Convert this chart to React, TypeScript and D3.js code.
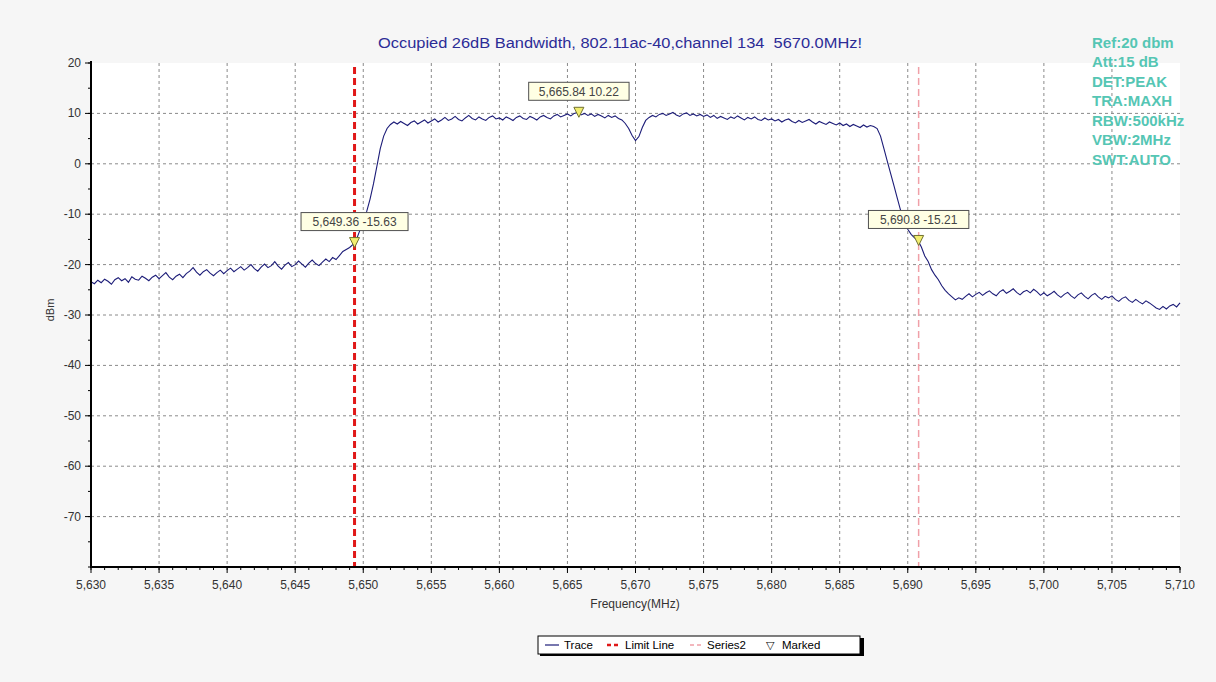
import React from 'react';
import * as d3 from 'd3';

// chart text
const TITLE = 'Occupied 26dB Bandwidth, 802.11ac-40,channel 134  5670.0MHz!';
const SETTINGS = ['Ref:20 dbm', 'Att:15 dB', 'DET:PEAK', 'TRA:MAXH', 'RBW:500kHz', 'VBW:2MHz', 'SWT:AUTO'];

// axes
const X_TICKS = [5630, 5635, 5640, 5645, 5650, 5655, 5660, 5665, 5670, 5675, 5680, 5685, 5690, 5695, 5700, 5705, 5710];
const Y_TICKS = [20, 10, 0, -10, -20, -30, -40, -50, -60, -70];

// trace, one sample every 0.25 MHz from 5630 MHz
const TRACE_START = 5630;
const TRACE_STEP = 0.25;
const TRACE = [
  -23.4, -23.8, -23.1, -23.6, -22.9, -23.3, -23.9, -23.0, -22.6, -23.2, -22.8, -23.5, -22.4, -22.9, -23.1, -22.3, -22.7, -23.2, -22.5, -22.1,
  -22.8, -22.2, -21.6, -22.5, -23.0, -22.3, -21.9, -22.6, -21.8, -21.3, -20.6, -21.5, -22.1, -21.4, -21.0, -21.7, -22.2, -21.6, -21.1, -21.8,
  -21.2, -20.7, -21.4, -20.9, -20.4, -21.1, -20.6, -20.0, -20.8, -21.3, -20.5, -19.9, -20.6, -20.2, -19.4, -20.3, -20.9, -20.1, -19.6, -20.4,
  -20.0, -19.3, -19.9, -20.5, -19.7, -19.1, -19.8, -20.2, -19.5, -18.9, -19.4, -18.6, -19.0, -18.2, -17.4, -17.0, -16.6, -16.0, -15.0, -13.2,
  -11.5, -9.5, -7.0, -4.0, -0.5, 3.0, 5.5, 7.0, 7.8, 8.3, 7.9, 8.4, 8.0, 7.6, 8.2, 8.5, 7.9, 8.3, 8.7, 8.1,
  8.5, 8.9, 8.3, 8.7, 9.2, 8.6, 8.9, 9.4, 8.8, 8.5, 9.1, 9.6, 9.0, 8.7, 9.3, 8.9, 8.6, 9.2, 9.5, 8.9,
  9.1, 8.7, 9.3, 9.0, 8.6, 9.2, 9.5, 9.0, 8.8, 9.4, 9.1, 8.7, 9.3, 9.6, 9.2, 8.9, 9.5, 9.8, 9.3, 9.6,
  9.9, 9.5, 10.0, 10.2, 9.7, 10.0, 9.6, 9.9, 9.4, 9.8, 9.5, 9.1, 9.6, 9.2, 9.5, 9.0, 8.7, 8.0, 7.0, 5.6,
  4.6, 5.4, 7.2, 8.6, 9.2, 9.6, 9.3, 9.8, 10.0, 9.6, 9.9, 10.2, 9.7, 9.4, 9.9, 10.1, 9.6, 9.9, 9.5, 9.8,
  9.4, 9.7, 9.2, 9.6, 9.0, 9.4, 9.1, 8.8, 9.3, 9.0, 9.5, 9.1, 8.7, 9.2, 8.9, 9.3, 8.8, 8.6, 9.1, 8.7,
  8.9, 8.5, 8.8, 8.3, 8.7, 8.9, 8.4, 8.1, 8.6, 8.2, 8.5, 8.8, 8.3, 7.9, 8.4, 8.1, 7.8, 8.3, 8.0, 7.7,
  8.1, 7.6, 7.9, 7.4, 7.8, 7.5, 7.2, 7.7, 7.3, 7.6, 7.4, 7.0, 5.5, 3.0, 0.5, -2.0, -4.5, -7.0, -9.5, -11.5,
  -13.0, -14.0, -14.7, -15.2, -16.5, -18.3, -19.4, -21.0, -22.1, -23.0, -24.2, -25.1, -25.8, -26.4, -27.0, -26.6, -26.9, -26.3, -25.8, -26.4,
  -25.9, -25.5, -26.1, -25.6, -25.2, -25.8, -26.2, -25.4, -25.0, -25.7, -25.3, -24.8, -25.5, -26.0, -25.4, -25.1, -25.6, -24.9, -25.4, -26.1,
  -25.6, -26.2, -25.8, -25.3, -26.0, -26.5, -25.9, -25.5, -26.2, -26.7, -26.0, -25.6, -26.3, -26.8, -26.1, -25.7, -26.4, -26.9, -26.3, -26.6,
  -26.2, -26.9, -27.3, -26.7, -26.4, -27.1, -27.5, -26.9, -27.4, -27.8, -27.2, -27.6, -28.1, -28.6, -28.9, -28.3, -28.8, -28.2, -27.9, -28.4,
  -27.6,
];

// markers
const MARK_FREQ = [5649.36, 5665.84, 5690.8];
const MARK_LEVEL = [-15.63, 10.22, -15.21];
const LIMIT_LINE_FREQ = 5649.36;
const SERIES2_FREQ = 5690.8;

const W = 1216;
const H = 682;
const FONT = 'Arial, "Liberation Sans", sans-serif';

export default function App() {
  const x = d3.scaleLinear().domain([5630, 5710]).range([91, 1180]);
  const y = d3.scaleLinear().domain([-80, 20]).range([567, 63]);
  const [x0, x1] = x.range();
  const [yb, yt] = y.range();

  const points: [number, number][] = TRACE.map((v, i) => [TRACE_START + i * TRACE_STEP, v]);
  const line = d3.line<[number, number]>().x(d => x(d[0])).y(d => y(d[1]));

  const xMinor = d3.range(5630, 5711, 1);
  const yMinor = d3.range(-80, 21, 5);
  const fmt = d3.format(',');

  return (
    <div style={{ position: 'absolute', left: 0, top: 0 }}>
      <svg width={W} height={H} style={{ display: 'block', fontFamily: FONT }}>
        <rect x={0} y={0} width={W} height={H} fill="#f6f6f6" />
        <rect x={x0} y={yt} width={x1 - x0} height={yb - yt} fill="#ffffff" />

        {/* grid */}
        {X_TICKS.filter(t => t > 5630 && t < 5710).map(t => (
          <line key={'gx' + t} x1={x(t)} x2={x(t)} y1={yt} y2={yb} stroke="#8a8a8a" strokeDasharray="3,3" />
        ))}
        {Y_TICKS.filter(t => t < 20).map(t => (
          <line key={'gy' + t} x1={x0} x2={x1} y1={y(t)} y2={y(t)} stroke="#8a8a8a" strokeDasharray="3,3" />
        ))}

        {/* limit line and series2 */}
        <line x1={x(LIMIT_LINE_FREQ)} x2={x(LIMIT_LINE_FREQ)} y1={yt + 4} y2={yb} stroke="#e01818" strokeWidth={3} strokeDasharray="7,4" />
        <line x1={x(SERIES2_FREQ)} x2={x(SERIES2_FREQ)} y1={yt + 4} y2={yb} stroke="#f0a0a8" strokeWidth={1.5} strokeDasharray="7,4" />

        {/* trace */}
        <path d={line(points) || ''} fill="none" stroke="#1c1c78" strokeWidth={1.1} />

        {/* axes */}
        <line x1={x0} x2={x0} y1={yt - 2} y2={yb} stroke="#000" strokeWidth={2} />
        <line x1={x0 - 1} x2={x1} y1={yb} y2={yb} stroke="#000" strokeWidth={2} />
        {yMinor.map(t => (
          <line key={'ym' + t} x1={x0 - 3} x2={x0} y1={y(t)} y2={y(t)} stroke="#000" />
        ))}
        {Y_TICKS.map(t => (
          <g key={'yt' + t}>
            <line x1={x0 - 6} x2={x0} y1={y(t)} y2={y(t)} stroke="#000" />
            <text x={x0 - 10} y={y(t) + 4} fontSize={12} textAnchor="end" fill="#333">{t}</text>
          </g>
        ))}
        {xMinor.map(t => (
          <line key={'xm' + t} x1={x(t)} x2={x(t)} y1={yb} y2={yb + 3} stroke="#000" />
        ))}
        {X_TICKS.map(t => (
          <g key={'xt' + t}>
            <line x1={x(t)} x2={x(t)} y1={yb} y2={yb + 6} stroke="#000" />
            <text x={x(t)} y={589} fontSize={12} textAnchor="middle" fill="#333">{fmt(t)}</text>
          </g>
        ))}
        <text x={635} y={608} fontSize={12} textAnchor="middle" fill="#333">Frequency(MHz)</text>
        <text transform="translate(54,310) rotate(-90)" fontSize={11} textAnchor="middle" fill="#333">dBm</text>

        {/* markers */}
        {MARK_FREQ.map((f, i) => {
          const px = x(f);
          const py = y(MARK_LEVEL[i]);
          const label = fmt(f) + ' ' + MARK_LEVEL[i];
          const bw = label.length * 6.6 + 8;
          return (
            <g key={'mk' + i}>
              <rect x={px - bw / 2} y={py - 30} width={bw} height={18} fill="#ffffe4" stroke="#505050" />
              <text x={px} y={py - 16.5} fontSize={12} textAnchor="middle" fill="#444">{label}</text>
              <path d={`M${px - 5},${py - 5}L${px + 5},${py - 5}L${px},${py + 5}Z`} fill="#f2ee70" stroke="#707030" />
            </g>
          );
        })}

        {/* title */}
        <text x={620} y={48} fontSize={15.5} textAnchor="middle" fill="#2c2c96" textLength={484} lengthAdjust="spacingAndGlyphs" style={{ whiteSpace: 'pre' }}>{TITLE}</text>

        {/* analyzer settings */}
        {SETTINGS.map((s, i) => (
          <text key={s} x={1092} y={47.5 + i * 19.5} fontSize={15} fontWeight="bold" fill="#55c6b4">{s}</text>
        ))}

        {/* legend */}
        <rect x={540} y={638} width={324} height={18} fill="#000" />
        <rect x={538} y={636} width={322} height={18} fill="#ffffff" stroke="#000" />
        <line x1={545} x2={559} y1={645} y2={645} stroke="#1c1c78" strokeWidth={1.2} />
        <text x={564} y={649} fontSize={11.5} fill="#000">Trace</text>
        <line x1={607} x2={621} y1={645} y2={645} stroke="#e01818" strokeWidth={2.5} strokeDasharray="4,3" />
        <text x={625} y={649} fontSize={11.5} fill="#000">Limit Line</text>
        <line x1={690} x2={704} y1={645} y2={645} stroke="#f0a0a8" strokeWidth={1.5} strokeDasharray="4,3" />
        <text x={707} y={649} fontSize={11.5} fill="#000">Series2</text>
        <text x={770} y={649} fontSize={11} textAnchor="middle" fill="#000">▽</text>
        <text x={782} y={649} fontSize={11.5} fill="#000">Marked</text>
      </svg>
    </div>
  );
}
